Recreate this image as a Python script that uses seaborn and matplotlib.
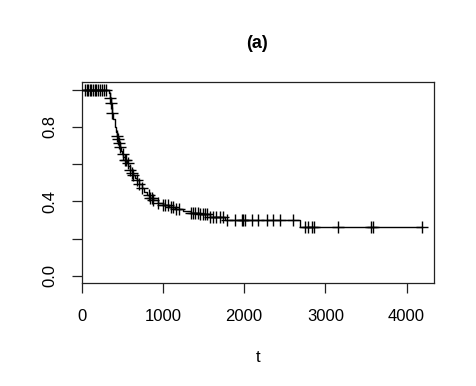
import numpy as np
import pandas as pd
import matplotlib
matplotlib.use("Agg")
import matplotlib.pyplot as plt
import seaborn as sns

# Kaplan-Meier step curve (time, survival after step)
step_times = [0, 330, 345, 357, 374, 390, 405, 420, 431, 441, 455, 470, 480, 495,
              510, 533, 555, 574, 595, 616, 636, 657, 677, 709, 739, 770, 800,
              841, 880, 943, 1000, 1080, 1150, 1250, 1340, 1460, 1580, 1770,
              2690, 4187]
step_surv = [1.0, 0.98, 0.955, 0.93, 0.875, 0.84, 0.80, 0.775, 0.752, 0.735,
             0.715, 0.69, 0.67, 0.655, 0.64, 0.62, 0.605, 0.59, 0.568, 0.55,
             0.54, 0.525, 0.515, 0.495, 0.47, 0.45, 0.435, 0.42, 0.405, 0.39,
             0.38, 0.37, 0.36, 0.35, 0.34, 0.33, 0.315, 0.30, 0.265, 0.265]

# censoring times
censor_times = [40, 60, 80, 100, 120, 140, 160, 180, 200, 225, 250, 275, 300,
                345, 357, 374, 431, 441, 460,
                472, 508, 534, 547, 570, 595, 616, 636, 677, 709, 739, 830,
                845, 860, 880, 943, 1000, 1030, 1060, 1100, 1130, 1160, 1200,
                1340, 1370, 1400, 1430, 1460, 1490, 1520, 1540, 1580, 1620,
                1650, 1700, 1740, 1790, 1888, 1975, 1990, 2012, 2100, 2172,
                2283, 2356, 2443, 2603, 2750, 2791, 2833, 2861, 3152, 3563,
                3591, 4187]

title = "(a)"
xlabel = "t"
xticks = [0, 1000, 2000, 3000, 4000]
yticks = [0.0, 0.2, 0.4, 0.6, 0.8, 1.0]
ytick_labels = ["0.0", "", "0.4", "", "0.8", ""]

sns.set_style("ticks")
plt.rcParams["font.family"] = ["Liberation Sans", "DejaVu Sans"]
plt.rcParams["text.color"] = "black"
plt.rcParams["axes.labelcolor"] = "black"
plt.rcParams["xtick.color"] = "black"
plt.rcParams["ytick.color"] = "black"

fig = plt.figure(figsize=(4.77, 3.86), dpi=100)
ax = fig.add_axes([0.1713, 0.266, 0.7392, 0.521])

curve = pd.DataFrame({"t": step_times, "S": step_surv})
sns.lineplot(data=curve, x="t", y="S", ax=ax, color="black", linewidth=1.0,
             estimator=None, sort=False, drawstyle="steps-post")

st = np.array(step_times)
ss = np.array(step_surv)
idx = np.searchsorted(st, np.array(censor_times), side="right") - 1
cens = pd.DataFrame({"t": censor_times, "S": ss[idx]})
sns.scatterplot(data=cens, x="t", y="S", ax=ax, marker="+", s=70,
                color="black", linewidth=1.0, zorder=3)

ax.set_xlim(0, 4342)
ax.set_ylim(-0.04, 1.04)
ax.set_xticks(xticks)
ax.set_xticklabels([str(v) for v in xticks], fontsize=12)
ax.set_yticks(yticks)
ax.set_yticklabels(ytick_labels, fontsize=12, rotation=90, va="center")
ax.tick_params(direction="out", length=7.2, width=0.9, colors="#222222",
               labelcolor="black")
ax.tick_params(axis="x", pad=11)
ax.tick_params(axis="y", pad=10)
for sp in ax.spines.values():
    sp.set_visible(True)
    sp.set_linewidth(0.9)
    sp.set_color("#222222")

ax.set_xlabel(xlabel, fontsize=12, labelpad=19, color="black")
ax.set_ylabel("")
fig.text(0.539, 1 - 43.5 / 386, title, fontsize=13, fontweight="bold",
         ha="center", va="center", color="black")

fig.savefig("out.png", dpi=100)
